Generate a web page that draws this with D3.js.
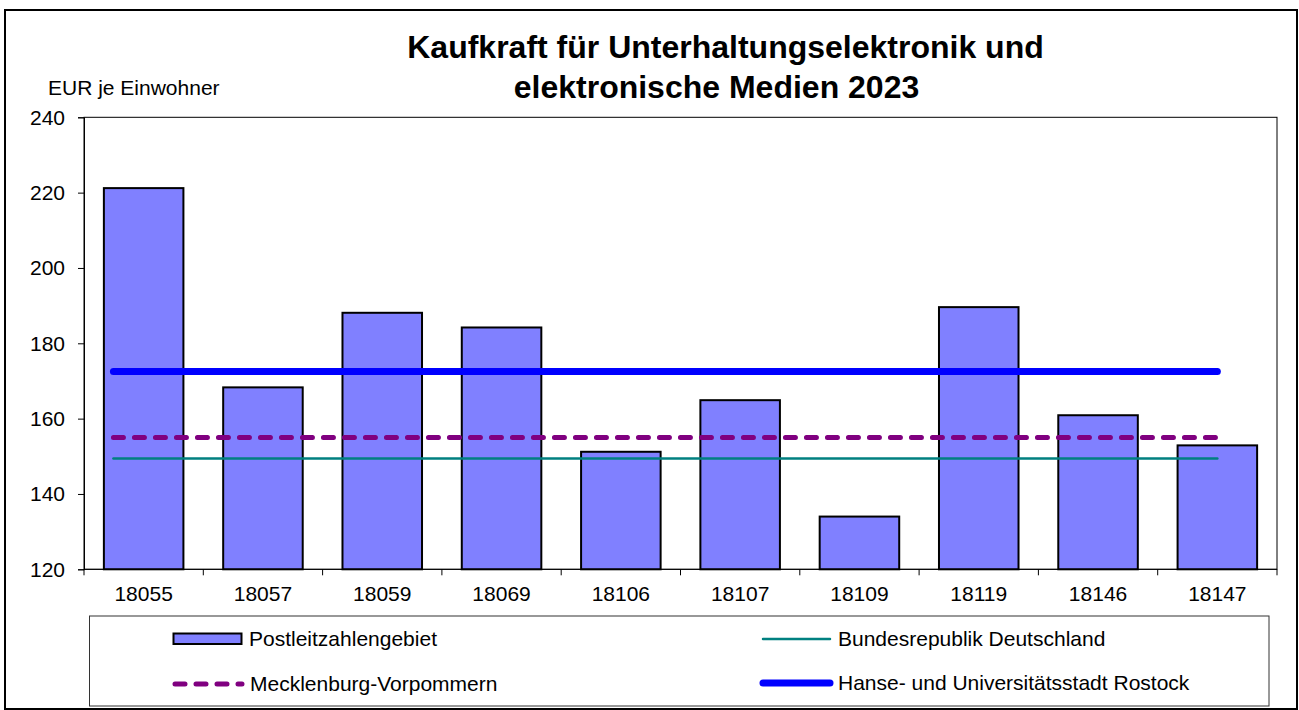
<!DOCTYPE html>
<html>
<head>
<meta charset="utf-8">
<script src="https://cdn.jsdelivr.net/npm/d3@7"></script>
<style>
  body { margin: 0; background: #fff; }
  text { font-family: "Liberation Sans", Arial, sans-serif; fill: #000; }
</style>
</head>
<body>
<script>
// data
const categories = ['18055','18057','18059','18069','18106','18107','18109','18119','18146','18147'];
const plzValues = [221.2, 168.3, 188.1, 184.2, 151.2, 164.9, 134.0, 189.6, 160.9, 152.9];
const yTicks = [120, 140, 160, 180, 200, 220, 240];
const refNames = ['Bundesrepublik Deutschland', 'Mecklenburg-Vorpommern', 'Hanse- und Universitätsstadt Rostock'];
const refValues = [149.4, 155.0, 172.5];
const titleLines = ['Kaufkraft für Unterhaltungselektronik und', 'elektronische Medien 2023'];

const W = 1299, H = 710;
const plot = {left: 84, right: 1277, top: 117.3, bottom: 569.3};
const fs = '21px';

const svg = d3.select('body').append('svg')
    .attr('width', W)
    .attr('height', H);

// outer frame
svg.append('rect')
    .attr('x', 5).attr('y', 10)
    .attr('width', 1292).attr('height', 699)
    .attr('fill', '#fff')
    .attr('stroke', '#000')
    .attr('stroke-width', 2);

const x = d3.scaleBand()
    .domain(categories)
    .range([plot.left, plot.right])
    .paddingInner(1/3)
    .paddingOuter(1/6);

const y = d3.scaleLinear()
    .domain([120, 240])
    .range([plot.bottom, plot.top]);

// plot area frame
svg.append('rect')
    .attr('x', plot.left).attr('y', plot.top)
    .attr('width', plot.right - plot.left)
    .attr('height', plot.bottom - plot.top)
    .attr('fill', 'none')
    .attr('stroke', '#000')
    .attr('stroke-width', 1);

// bars
svg.append('g').selectAll('rect')
    .data(plzValues)
    .enter().append('rect')
    .attr('x', (d, i) => x(categories[i]))
    .attr('y', d => y(d))
    .attr('width', x.bandwidth())
    .attr('height', d => y(120) - y(d))
    .attr('fill', '#8080ff')
    .attr('stroke', '#000')
    .attr('stroke-width', 2);

// reference lines
const lineStyles = [
  {color: '#008080', width: 2.5, dash: null},
  {color: '#800080', width: 5, dash: '10,11'},
  {color: '#0000ff', width: 7, dash: null}
];
const lineX0 = x(categories[0]) + x.step() * 0.08;
const lineX1 = x(categories[categories.length - 1]) + x.bandwidth() / 2;

svg.append('g').selectAll('line')
    .data(refValues)
    .enter().append('line')
    .attr('x1', lineX0)
    .attr('x2', lineX1)
    .attr('y1', d => y(d))
    .attr('y2', d => y(d))
    .attr('stroke', (d, i) => lineStyles[i].color)
    .attr('stroke-width', (d, i) => lineStyles[i].width)
    .attr('stroke-linecap', 'round')
    .attr('stroke-dasharray', (d, i) => lineStyles[i].dash);

// y axis
const yAxis = svg.append('g')
    .attr('transform', `translate(${plot.left},0)`)
    .call(d3.axisLeft(y).tickValues(yTicks).tickSize(6).tickPadding(13));
yAxis.select('.domain').attr('stroke', '#000');
yAxis.selectAll('text')
    .style('font-size', fs)
    .attr('fill', '#000');

// x axis with ticks between categories
const xAxis = svg.append('g')
    .attr('transform', `translate(0,${plot.bottom})`);
xAxis.append('line')
    .attr('x1', plot.left).attr('x2', plot.right)
    .attr('stroke', '#000');
const bounds = d3.range(categories.length + 1).map(i => plot.left + i * x.step());
xAxis.selectAll('.tk')
    .data(bounds)
    .enter().append('line')
    .attr('class', 'tk')
    .attr('x1', d => d).attr('x2', d => d)
    .attr('y1', 0).attr('y2', 6)
    .attr('stroke', '#000');
xAxis.selectAll('.lbl')
    .data(categories)
    .enter().append('text')
    .attr('class', 'lbl')
    .attr('x', d => x(d) + x.bandwidth() / 2)
    .attr('y', 32)
    .attr('text-anchor', 'middle')
    .style('font-size', fs)
    .text(d => d);

// unit label
svg.append('text')
    .attr('x', 48).attr('y', 94.5)
    .style('font-size', fs)
    .text('EUR je Einwohner');

// title
const titleY = [58, 98];
svg.selectAll('.title')
    .data(titleLines)
    .enter().append('text')
    .attr('class', 'title')
    .attr('x', (d, i) => i === 0 ? 725.5 : 716.5)
    .attr('y', (d, i) => titleY[i])
    .attr('text-anchor', 'middle')
    .style('font-size', '32px')
    .style('font-weight', 'bold')
    .text(d => d);

// legend
svg.append('rect')
    .attr('x', 89.5).attr('y', 616)
    .attr('width', 1179.5).attr('height', 90)
    .attr('fill', '#fff')
    .attr('stroke', '#333')
    .attr('stroke-width', 1);

const legend = svg.append('g');
legend.append('rect')
    .attr('x', 173.5).attr('y', 633.5)
    .attr('width', 68).attr('height', 10.5)
    .attr('fill', '#8080ff')
    .attr('stroke', '#000')
    .attr('stroke-width', 2);
legend.append('text')
    .attr('x', 249).attr('y', 646)
    .style('font-size', fs)
    .text('Postleitzahlengebiet');

const legendLines = [
  {i: 0, x: 763, y: 639},
  {i: 1, x: 175, y: 684},
  {i: 2, x: 763, y: 683}
];
legendLines.forEach(l => {
  const s = lineStyles[l.i];
  legend.append('line')
      .attr('x1', l.x).attr('x2', l.x + 67)
      .attr('y1', l.y).attr('y2', l.y)
      .attr('stroke', s.color)
      .attr('stroke-width', s.width)
      .attr('stroke-linecap', 'round')
      .attr('stroke-dasharray', s.dash);
  legend.append('text')
      .attr('x', l.x + 75).attr('y', l.y + 7)
      .style('font-size', fs)
      .text(refNames[l.i]);
});
</script>
</body>
</html>
